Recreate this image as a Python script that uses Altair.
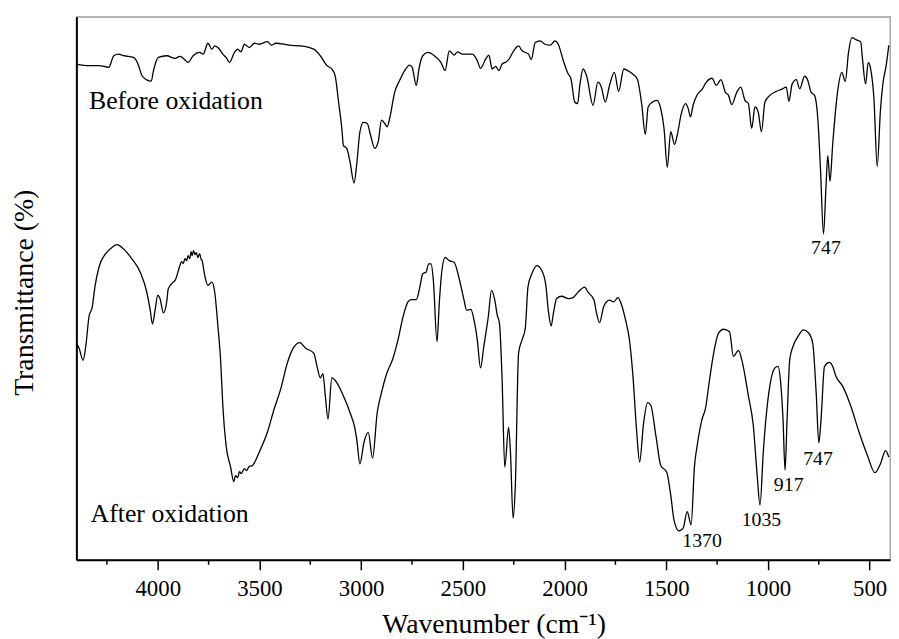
import altair as alt
import pandas as pd

# ---- Spectrum "Before oxidation" (wavenumber cm-1, transmittance in arbitrary units) ----
before_wn = [4400, 4338, 4289, 4241, 4216, 4192, 4167, 4119, 4094, 4078,
             4054, 4032, 4021, 3997, 3956, 3915, 3891, 3867, 3851, 3826,
             3794, 3777, 3753, 3734, 3720, 3704, 3680, 3664, 3647, 3623,
             3607, 3591, 3574, 3550, 3525, 3501, 3461, 3441, 3420, 3379,
             3355, 3298, 3233, 3201, 3168, 3144, 3128, 3111, 3095, 3087,
             3071, 3055, 3035, 3022, 3006, 2989, 2970, 2954, 2933, 2916,
             2900, 2884, 2872, 2860, 2835, 2811, 2786, 2762, 2749, 2729,
             2716, 2697, 2672, 2640, 2608, 2587, 2567, 2543, 2526, 2502,
             2453, 2429, 2413, 2388, 2372, 2356, 2339, 2323, 2307, 2291,
             2275, 2250, 2226, 2209, 2193, 2177, 2164, 2144, 2120, 2096,
             2071, 2047, 2031, 2006, 1982, 1969, 1950, 1936, 1925, 1909,
             1892, 1860, 1836, 1819, 1800, 1779, 1755, 1734, 1709, 1690,
             1665, 1642, 1621, 1603, 1589, 1568, 1546, 1527, 1511, 1495,
             1478, 1459, 1446, 1426, 1405, 1392, 1381, 1368, 1348, 1324,
             1303, 1275, 1254, 1231, 1210, 1194, 1178, 1153, 1134, 1113,
             1096, 1080, 1064, 1048, 1032, 1015, 991, 959, 934, 910,
             897, 881, 861, 844, 820, 804, 788, 771, 755, 742,
             727, 715, 706, 695, 682, 658, 637, 620, 604, 588,
             565, 544, 536, 520, 507, 495, 479, 463, 447, 435,
             419, 406]
before_t = [500.3, 498.7, 498.7, 497, 508.7, 510.3, 508.7, 507, 498.7, 488.7,
            484.3, 483, 493.7, 507, 508.7, 506, 508, 504.7, 502, 508.7,
            512, 510.3, 521.3, 515.3, 518.7, 517, 510.3, 507, 502, 512,
            515.3, 512.7, 520.3, 517, 521.3, 520.3, 523, 519.3, 521.3, 520.3,
            519.3, 518.7, 515.3, 508.7, 498.7, 495.3, 488.7, 462, 435.3, 418,
            415.3, 402, 380.3, 398.7, 432, 441.5, 440.3, 428.7, 415.3, 422,
            443.7, 440.3, 437, 445.3, 472, 483.7, 493.7, 499.3, 497, 478.7,
            495.3, 508.7, 512, 508.7, 502, 493.7, 513.7, 509.3, 512.7, 510.3,
            510.3, 503.7, 496, 505.3, 509.3, 495.3, 498, 493.7, 500.3, 502,
            504.7, 513.7, 518.7, 513.7, 512, 510.3, 504.7, 522, 523.7, 520.3,
            519.3, 523.7, 520.3, 503.7, 490.3, 486, 462, 460.3, 478.7, 495.3,
            488.7, 458.7, 482, 477, 462, 478.7, 492, 472.7, 495.3, 493.7,
            490.3, 485, 460.3, 429.3, 457, 462, 463.7, 455.3, 435.3, 396.3,
            432, 419.3, 428.7, 450.3, 460.3, 455.3, 447, 458.7, 469.3, 474.7,
            482, 486, 478.7, 484.7, 472, 468.7, 459.3, 472, 477, 463.7,
            460.3, 435.3, 457, 452, 432, 462, 468.7, 472.7, 474.7, 477,
            462.7, 480.3, 484.7, 475.3, 488, 483.7, 472, 468.7, 445.3, 395.3,
            328.7, 375.3, 408, 382, 418.7, 472, 492, 482.7, 512, 527,
            524.7, 522.7, 507, 480.3, 502, 495.3, 465.3, 397, 453.7, 480.3,
            498.7, 519.3]

# ---- Spectrum "After oxidation" ----
after_wn = [4400, 4387, 4367, 4354, 4338, 4322, 4309, 4289, 4257, 4225,
            4200, 4176, 4127, 4086, 4054, 4037, 4026, 4013, 4000, 3989,
            3972, 3956, 3948, 3924, 3915, 3891, 3883, 3875, 3866, 3858,
            3851, 3843, 3836, 3831, 3824, 3817, 3810, 3803, 3794, 3788,
            3782, 3769, 3753, 3734, 3720, 3704, 3691, 3680, 3664, 3642,
            3626, 3618, 3607, 3598, 3590, 3574, 3563, 3552, 3534, 3501,
            3461, 3428, 3396, 3363, 3334, 3301, 3274, 3233, 3217, 3201,
            3188, 3176, 3163, 3144, 3119, 3087, 3055, 3030, 3022, 3006,
            2986, 2965, 2944, 2921, 2900, 2876, 2843, 2819, 2794, 2770,
            2754, 2729, 2713, 2697, 2681, 2668, 2656, 2645, 2627, 2616,
            2603, 2587, 2567, 2543, 2518, 2494, 2482, 2461, 2445, 2429,
            2413, 2397, 2375, 2359, 2343, 2331, 2320, 2307, 2294, 2275,
            2266, 2253, 2242, 2226, 2209, 2193, 2180, 2161, 2136, 2112,
            2092, 2080, 2066, 2055, 2039, 2014, 1982, 1958, 1933, 1901,
            1885, 1855, 1844, 1828, 1807, 1779, 1758, 1738, 1722, 1702,
            1681, 1665, 1644, 1631, 1612, 1592, 1576, 1551, 1527, 1498,
            1478, 1462, 1438, 1417, 1397, 1378, 1361, 1348, 1324, 1308,
            1287, 1267, 1243, 1218, 1189, 1170, 1145, 1129, 1096, 1072,
            1053, 1039, 1023, 1007, 991, 966, 950, 939, 926, 916,
            906, 893, 877, 853, 825, 799, 780, 763, 750, 739,
            722, 698, 682, 666, 633, 593, 552, 511, 474, 447,
            422, 406]
after_t = [218.7, 213.7, 201.3, 215.3, 245.3, 255.3, 275.3, 295.3, 308.7, 315.3,
           318, 315.3, 303.7, 290.3, 270.3, 252, 238, 252, 267, 263.7,
           249.3, 260.3, 273.7, 280.3, 282, 297, 301, 299, 304, 302,
           307, 304, 311, 307, 312, 308, 310, 305, 309, 304,
           302, 287, 277, 280.3, 270.3, 235.3, 202, 155.3, 115.3, 93.7,
           78.7, 85, 83, 89, 87, 92, 90, 94, 95.3, 108.7,
           128.7, 152, 172, 198.7, 213.7, 219.3, 213.7, 208.7, 195.3, 183.7,
           188, 165.3, 142, 183.7, 178.7, 165.3, 148.7, 132, 122, 97,
           118.7, 128.7, 102.7, 148.7, 168.7, 187, 203.7, 222, 245.3, 260.3,
           262.7, 262.7, 273.7, 288.7, 290.3, 298.7, 298.7, 282, 220.3, 258.7,
           292, 305.3, 302, 300.3, 283.7, 262, 252, 252.7, 242, 222,
           193.7, 215.3, 245.3, 272, 262, 247, 238.7, 182, 93.7, 133.7,
           108.7, 42, 75.3, 208.7, 222, 233.7, 275.3, 288.7, 297, 292,
           277, 252, 236, 248.7, 263.7, 266, 263.7, 264.7, 270.3, 275.3,
           270.3, 262, 250.3, 239.3, 256, 262, 260.3, 264.7, 258.7, 243.7,
           222, 188.7, 125.3, 98.7, 137, 158.7, 156, 125.3, 95.3, 88.7,
           65.3, 40.3, 29.3, 32, 48.7, 35.3, 95.3, 115.3, 142, 152,
           182, 208.7, 228.7, 232.7, 230.3, 205.3, 211.3, 202, 165.3, 135.3,
           85.3, 55.3, 108.7, 148.7, 175.3, 193.7, 195.3, 182, 142, 90.3,
           142, 202, 215.3, 225.3, 232, 228.7, 218.7, 168.7, 118, 142,
           195.3, 199.3, 195.3, 185.3, 175.3, 155.3, 128.7, 105.3, 88, 97,
           110.3, 103.7]

# ---- Axis ticks ----
major_ticks = [4000, 3500, 3000, 2500, 2000, 1500, 1000, 500]
minor_ticks = [4250, 3750, 3250, 2750, 2250, 1750, 1250, 750]

# ---- Annotations ----
name_text = ["Before oxidation", "After oxidation"]
name_wn = [4338, 4330]
name_t = [454.7, 38.7]

peak_text = ["747", "1370", "1035", "917", "747"]
peak_wn = [715, 1324, 1032, 898, 754]
peak_t = [308.7, 12.7, 33.7, 69.3, 96]

FONT = "Liberation Serif"
W, H = 821, 548

spectra = pd.concat([
    pd.DataFrame({"wn": before_wn, "t": before_t, "sample": "Before oxidation"}),
    pd.DataFrame({"wn": after_wn, "t": after_t, "sample": "After oxidation"}),
], ignore_index=True)

x_scale = alt.Scale(domain=[400, 4400], reverse=True, nice=False, zero=False)
y_scale = alt.Scale(domain=[0, 548], nice=False, zero=False)

lines = alt.Chart(spectra).mark_line(
    color="black", strokeWidth=1.3, interpolate="monotone"
).encode(
    x=alt.X("wn:Q", scale=x_scale,
            axis=alt.Axis(values=major_ticks, format="d", labelFlush=False,
                          labelFont=FONT, labelFontSize=23, labelPadding=8,
                          title="Wavenumber (cm⁻¹)", titleX=421, titleY=73,
                          titleBaseline="alphabetic", titleAlign="center")),
    y=alt.Y("t:Q", scale=y_scale,
            axis=alt.Axis(labels=False, ticks=False, title="Transmittance (%)",
                          titleX=-44, titleY=278, titleAngle=270,
                          titleBaseline="alphabetic", titleAlign="center")),
    detail="sample:N",
    order=alt.Order("wn:Q", sort="descending"),
)

minor = alt.Chart(pd.DataFrame({"wn": minor_ticks})).mark_rule(
    color="black", strokeWidth=1.5
).encode(
    x=alt.X("wn:Q", scale=x_scale),
    y=alt.value(H),
    y2=alt.value(H + 5),
)

names = alt.Chart(pd.DataFrame({"wn": name_wn, "t": name_t, "label": name_text})).mark_text(
    font=FONT, fontSize=26, align="left", baseline="alphabetic", color="black"
).encode(
    x=alt.X("wn:Q", scale=x_scale),
    y=alt.Y("t:Q", scale=y_scale),
    text="label:N",
)

peaks = alt.Chart(pd.DataFrame({"wn": peak_wn, "t": peak_t, "label": peak_text})).mark_text(
    font=FONT, fontSize=20, align="center", baseline="alphabetic", color="black"
).encode(
    x=alt.X("wn:Q", scale=x_scale),
    y=alt.Y("t:Q", scale=y_scale),
    text="label:N",
)

chart = alt.layer(lines, minor, names, peaks).properties(
    width=W, height=H,
    padding={"left": 69, "top": 6, "right": 1, "bottom": 79},
    autosize=alt.AutoSizeParams(type="none"),
    background="white",
).configure_view(
    stroke="#999999", strokeWidth=1.3
).configure_axis(
    domainColor="black", domainWidth=2, tickColor="black", tickWidth=1.5,
    tickSize=10, labelFont=FONT, labelFontSize=23, labelColor="black",
    labelPadding=8, titleFont=FONT, titleFontSize=28, titleFontWeight="normal",
    titleColor="black", grid=False,
)

chart.save("out.html", embed_options={"renderer": "svg", "actions": False})
